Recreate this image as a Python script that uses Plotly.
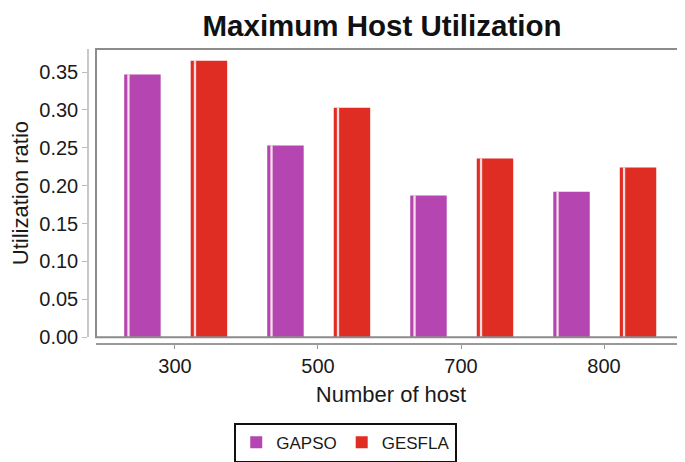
import plotly.graph_objects as go

categories = ["300", "500", "700", "800"]
gapso = [0.347, 0.253, 0.187, 0.192]
gesfla = [0.365, 0.303, 0.236, 0.224]
y_ticks = [0.00, 0.05, 0.10, 0.15, 0.20, 0.25, 0.30, 0.35]

C_GAPSO = "rgb(181,69,176)"
C_GESFLA = "rgb(224,45,35)"
FONT = "Liberation Sans, Arial, sans-serif"

bw = 0.255
off_g = -0.355
off_r = 0.110

fig = go.Figure()
fig.add_trace(go.Bar(x=categories, y=gapso, name="GAPSO", marker=dict(color=C_GAPSO, line=dict(width=0)),
                     width=[bw]*4, offset=[off_g]*4))
fig.add_trace(go.Bar(x=categories, y=gesfla, name="GESFLA", marker=dict(color=C_GESFLA, line=dict(width=0)),
                     width=[bw]*4, offset=[off_r]*4))
# thin light stripes near the left edge of every bar
for vals, off in ((gapso, off_g), (gesfla, off_r)):
    fig.add_trace(go.Bar(x=categories, y=vals, showlegend=False, hoverinfo="skip",
                         marker=dict(color="rgba(255,240,240,0.9)", line=dict(width=0)),
                         width=[0.016]*4, offset=[off + 0.022]*4))

fig.update_layout(
    width=685, height=462,
    margin=dict(l=80, r=7, t=41, b=118),
    barmode="overlay",
    plot_bgcolor="white", paper_bgcolor="white",
    font=dict(family=FONT, color="#1a1a1a"),
    title=dict(text="<b>Maximum Host Utilization</b>", font=dict(size=29.5, color="#111"),
               x=0.546, xanchor="center", xref="container", y=0.961, yanchor="middle"),
    xaxis=dict(domain=[0.0134, 1], range=[-0.552, 3.573], anchor="free", position=0,
               automargin=False,
               showline=True, linecolor="#9a9a9a", linewidth=1.5,
               ticks="outside", ticklen=4, tickcolor="#999", tickfont=dict(size=20),
               showgrid=False, zeroline=False,
               title=dict(text="Number of host", font=dict(size=22), standoff=10)),
    yaxis=dict(domain=[0.023, 1], range=[0, 0.3805], anchor="free", position=0,
               automargin=False,
               showline=True, linecolor="#c8c8c8", linewidth=1.5,
               ticks="outside", ticklen=5, tickcolor="#bbb", tickfont=dict(size=20),
               tickvals=y_ticks, tickformat=".2f",
               showgrid=False, zeroline=False,
               title=dict(text="Utilization ratio", font=dict(size=22), standoff=10)),
    legend=dict(orientation="h", x=0.431, xanchor="center", y=-0.267, yanchor="top",
                bordercolor="#111", borderwidth=2, font=dict(size=17),
                itemsizing="constant", traceorder="normal", itemwidth=30),
    shapes=[dict(type="rect", xref="x domain", yref="y domain", x0=0, x1=1, y0=0, y1=1,
                 line=dict(color="#8c8c8c", width=2), layer="above")],
)

fig.write_html("out.html")
